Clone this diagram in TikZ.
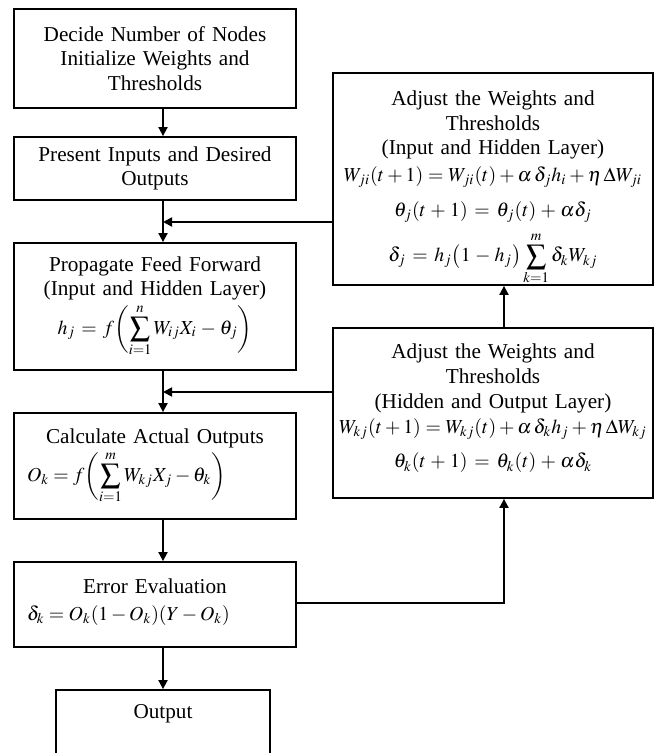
\documentclass[tikz,border=0pt]{standalone}
\usepackage{mathptmx}
\usepackage{fontspec}
\setmainfont{Liberation Serif}
\usetikzlibrary{arrows.meta}
\newcommand{\eqsize}{\fontsize{9.9}{12}\selectfont}

\begin{document}
\begin{tikzpicture}[x=0.5pt, y=-0.5pt, >={Triangle[length=4.5pt,width=4.5pt]},
    box/.style={draw, line width=0.9pt, inner sep=0pt, align=center, font=\fontsize{10.6}{12.4}\selectfont},
    flow/.style={->, line width=0.9pt}]
    \useasboundingbox (0,0) rectangle (655,753);
    % main column
    \node[box, text width=141pt, minimum height=49.5pt] (init) at (155,58.5) {Decide Number of Nodes\\ Initialize Weights and\\ Thresholds};
    \node[box, text width=141pt, minimum height=31.5pt] (present) at (155,168.5) {Present Inputs and Desired\\ Outputs};
    \node[box, text width=141pt, minimum height=63.5pt] (forward) at (155,306.5) {Propagate Feed Forward\\ (Input and Hidden Layer)\\[1pt]
        {\eqsize $\displaystyle h_j = f\biggl(\sum_{i=1}^{n} W_{ij} X_i - \theta_j\biggr)$}};
    \node[box, text width=141pt, minimum height=53pt] (actual) at (155,466) {Calculate Actual Outputs\\[1pt]
        \makebox[141pt][l]{\hspace{6.5pt}\eqsize $\displaystyle O_k = f\biggl(\sum_{i=1}^{m} W_{kj} X_j - \theta_k\biggr)$}};
    \node[box, text width=141pt, minimum height=42.5pt] (error) at (155,604.5) {Error Evaluation\\[1pt]
        \makebox[141pt][l]{\hspace{6.5pt}\eqsize $\delta_k = O_k(1-O_k)(Y-O_k)$}\rule[-5pt]{0pt}{0pt}};
    \node[box, text width=107pt, minimum height=32pt] (output) at (163,722) {Output\rule[-11pt]{0pt}{0pt}};
    % right column
    \node[box, text width=160pt, minimum height=106pt] (adjih) at (493,179) {\rule{0pt}{16pt}Adjust the Weights and\\ Thresholds\\ (Input and Hidden Layer)\\[1pt]
        {\eqsize $W_{ji}(t+1) = W_{ji}(t) + \alpha\,\delta_j h_i + \eta\,\Delta W_{ji}$}\\[5pt]
        {\eqsize $\theta_j(t+1) = \theta_j(t) + \alpha\delta_j$}\\[4pt]
        {\eqsize $\displaystyle \delta_j = h_j\bigl(1-h_j\bigr)\sum_{k=1}^{m}\delta_k W_{kj}$}};
    \node[box, text width=160pt, minimum height=85pt] (adjho) at (493,413) {Adjust the Weights and\\ Thresholds\\ (Hidden and Output Layer)\\[0pt]
        {\eqsize $W_{kj}(t+1) = W_{kj}(t) + \alpha\,\delta_k h_j + \eta\,\Delta W_{kj}$}\\[5pt]
        {\eqsize $\theta_k(t+1) = \theta_k(t) + \alpha\delta_k$}\rule[-7pt]{0pt}{0pt}};
    \coordinate (j1) at (163,222);
    \coordinate (j2) at (163,392);
    \coordinate (fb) at (504,603);
    % arrows
    \draw[flow] (init.south -| output) -- (present.north -| output);
    \draw[flow] (present.south -| output) -- (forward.north -| output);
    \draw[flow] (forward.south -| output) -- (actual.north -| output);
    \draw[flow] (actual.south -| output) -- (error.north -| output);
    \draw[flow] (error.south -| output) -- (output.north);
    \draw[flow] (adjih.west |- j1) -- (j1);
    \draw[flow] (adjho.west |- j2) -- (j2);
    \draw[flow] (error.east |- fb) -- (fb) -- (adjho.south -| fb);
    \draw[flow] (adjho.north -| fb) -- (adjih.south -| fb);
\end{tikzpicture}
\end{document}
